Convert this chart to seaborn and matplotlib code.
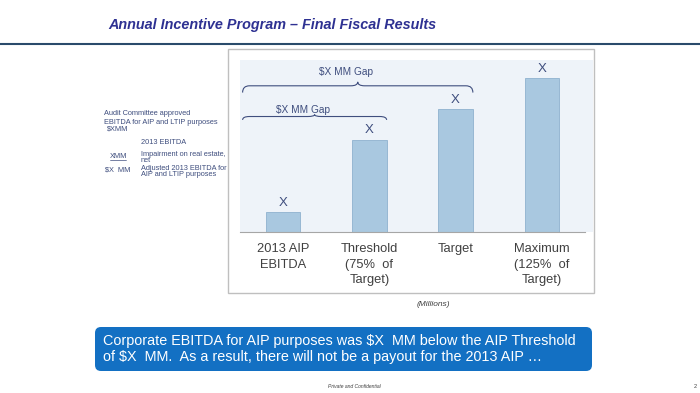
import matplotlib
matplotlib.use('Agg')
import matplotlib.pyplot as plt
from matplotlib.patches import Rectangle, FancyBboxPatch, PathPatch
from matplotlib.path import Path
import seaborn as sns
import pandas as pd

# chart data (values in millions, shown as "X" on the slide)
categories = ['2013 AIP\nEBITDA', 'Threshold\n(75%  of\nTarget)', 'Target', 'Maximum\n(125%  of\nTarget)']
values = [16, 75, 100, 125]
value_labels = ['X', 'X', 'X', 'X']
gap_labels = ['$X MM Gap', '$X MM Gap']
gap_ends = [1, 2]  # gap braces run from the first bar to these bars

title = 'Annual Incentive Program \u2013 Final Fiscal Results'
note_lines = ['Corporate EBITDA for AIP purposes was $X  MM below the AIP Threshold',
              'of $X  MM.  As a result, there will not be a payout for the 2013 AIP \u2026']

NAVY = '#2E3192'
SLATE = '#3F4E7E'
BAR = '#A9C8E0'

sns.set_style('white')
plt.rcParams['font.family'] = ['Liberation Sans', 'DejaVu Sans']
plt.rcParams['text.parse_math'] = False


def brace(ax, x0, x1, y, rise, drop, d=0.08):
    xm = (x0 + x1) / 2
    verts = [(x0, y - drop), (x0, y), (x0 + d, y),
             (xm - d, y), (xm, y), (xm, y + rise), (xm, y), (xm + d, y),
             (x1 - d, y), (x1, y), (x1, y - drop)]
    codes = [Path.MOVETO, Path.CURVE3, Path.CURVE3,
             Path.LINETO, Path.CURVE3, Path.CURVE3, Path.CURVE3, Path.CURVE3,
             Path.LINETO, Path.CURVE3, Path.CURVE3]
    ax.add_patch(PathPatch(Path(verts, codes), fill=False, color=SLATE, lw=0.8))


fig = plt.figure(figsize=(7, 3.93), dpi=100)

# page decoration in pixel coordinates
deco = fig.add_axes([0, 0, 1, 1], zorder=0)
deco.set_xlim(0, 700)
deco.set_ylim(393, 0)
deco.axis('off')

deco.text(108, 25, title, fontsize=10.4, fontweight='bold', fontstyle='italic',
          color=NAVY, va='center', ha='left')
deco.plot([0, 700], [44, 44], color='#2A4B6B', lw=1.5, solid_capstyle='butt')

deco.add_patch(Rectangle((228, 49), 366, 244, fill=False, ec='#BFBFBF', lw=1))
deco.add_patch(Rectangle((240, 60), 353, 172, fc='#EEF3F9', ec='none'))

# side notes
side = dict(fontsize=5.3, color=SLATE, va='center', ha='left')
deco.text(104, 118, 'Audit Committee approved\nEBITDA for AIP and LTIP purposes',
          linespacing=1.45, **side)
deco.text(107, 129, '$XMM', **side)
deco.text(141, 142, '2013 EBITDA', **side)
deco.text(110, 156, 'XMM', **side)
deco.plot([110, 126], [159.5, 159.5], color=SLATE, lw=0.5)
deco.text(141, 158, 'Impairment on real estate,\nnet', linespacing=0.8, **side)
deco.text(105, 170, '$X  MM', **side)
deco.text(141, 172, 'Adjusted 2013 EBITDA for\nAIP and LTIP purposes', linespacing=0.8, **side)

deco.text(433, 305, '(Millions)', fontsize=6, fontstyle='italic', color='#404040',
          ha='center', va='center')

deco.add_patch(FancyBboxPatch((95, 327), 497, 44, boxstyle='round,pad=0,rounding_size=6',
                              fc='#1370C3', ec='none'))
deco.text(103, 349, '\n'.join(note_lines), fontsize=10.4, color='white',
          ha='left', va='center', linespacing=1.1)

deco.text(354, 386, 'Private and Confidential', fontsize=3.6, fontstyle='italic',
          color='#404040', ha='center', va='center')
deco.text(695, 386, '2', fontsize=4, color='#404040', ha='center', va='center')

# bar chart
df = pd.DataFrame({'category': categories, 'value': values})
ax = fig.add_axes([240 / 700, 1 - 232 / 393, 353 / 700, 172 / 393], zorder=1)
ax.set_facecolor('none')
sns.barplot(data=df, x='category', y='value', color=BAR, width=0.4,
            edgecolor='#8FB1CF', linewidth=0.6, saturation=1, ax=ax)
ax.bar_label(ax.containers[0], labels=value_labels, padding=2.5, fontsize=9.5, color=SLATE)

ax.set_xlim(-0.5, -0.5 + 353 / 86.25)
ax.set_ylim(0, 140)
ax.set_xlabel('')
ax.set_ylabel('')
ax.set_yticks([])
for s in ['top', 'right', 'left']:
    ax.spines[s].set_visible(False)
ax.spines['bottom'].set_color('#A6A6A6')
ax.spines['bottom'].set_linewidth(0.8)
ax.spines['bottom'].set_bounds(-0.5, len(categories) - 0.5)
ax.set_xticks([i - 0.5 for i in range(len(categories) + 1)], minor=True)
ax.tick_params(axis='x', which='minor', length=3.5, width=0.8, color='#A6A6A6', direction='out')
ax.tick_params(axis='x', which='major', length=0, pad=8, labelsize=9.3, labelcolor='#404040')
for t in ax.get_xticklabels():
    t.set_linespacing(1.38)

# gap braces
left = -0.47
text_y = [99.5, 130]
for k, (end, lab) in enumerate(zip(gap_ends, gap_labels)):
    y = values[end] + 19
    x1 = end + 0.2
    scale = 1.0 if k else 0.5
    brace(ax, left, x1, y, rise=3.2 * scale, drop=5.5 * scale)
    ax.text((left + x1) / 2 - 0.14, text_y[k], lab, fontsize=7.3, color=SLATE,
            ha='center', va='center')

fig.savefig('out.png', dpi=100)
